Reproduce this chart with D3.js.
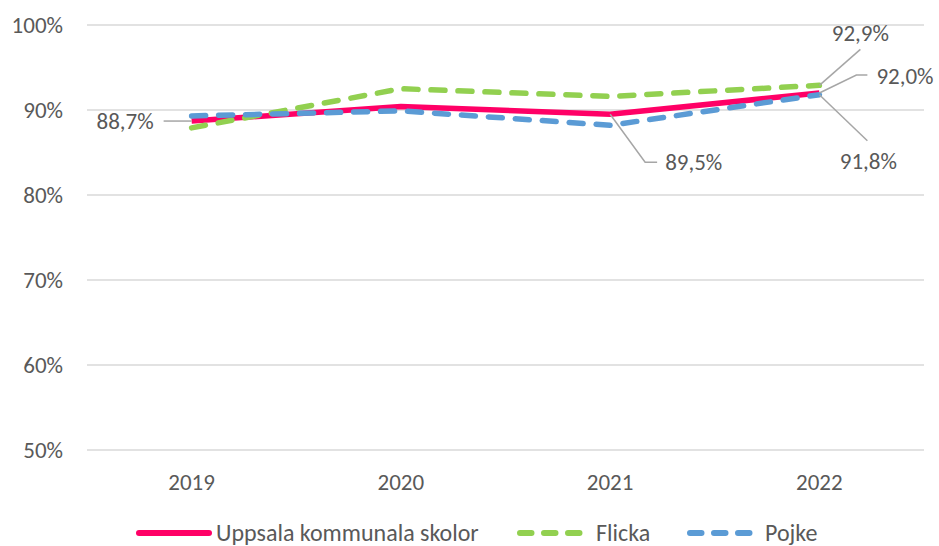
<!DOCTYPE html>
<html>
<head>
<meta charset="utf-8">
<script src="https://cdn.jsdelivr.net/npm/d3@7"></script>
<style>
  body { margin: 0; background: #fff; }
  text { font-family: Carlito, Calibri, Lato, sans-serif; fill: #595959; }
</style>
</head>
<body>
<div id="chart"></div>
<script>
// data
const years = ["2019", "2020", "2021", "2022"];
const uppsala = [88.7, 90.4, 89.5, 92.0];
const flicka = [87.9, 92.5, 91.6, 92.9];
const pojke = [89.3, 89.9, 88.2, 91.8];
const yTicks = [50, 60, 70, 80, 90, 100];

const seriesList = [
    {name: "Uppsala kommunala skolor", values: uppsala, color: "#FF0066", dash: null},
    {name: "Flicka", values: flicka, color: "#92D050", dash: "14 13"},
    {name: "Pojke", values: pojke, color: "#5B9BD5", dash: "14 13"}
];

// labels, with the leader line points relative to the data point
const pointLabels = [
    {s: 0, i: 0, text: "88,7%", tx: -38, ty: 0, anchor: "end", leader: [[0, 0], [-28, 0]]},
    {s: 0, i: 2, text: "89,5%", tx: 55, ty: 48, anchor: "start", leader: [[0, 0], [35, 48], [47, 48]]},
    {s: 1, i: 3, text: "92,9%", tx: 41, ty: -52, anchor: "middle", leader: [[0, 0], [41, -36]]},
    {s: 0, i: 3, text: "92,0%", tx: 57, ty: -17, anchor: "start", leader: [[0, 0], [37, -18], [48, -18]]},
    {s: 2, i: 3, text: "91,8%", tx: 49, ty: 66, anchor: "middle", leader: [[0, 0], [48, 46]]}
];

const width = 939, height = 546;
const margin = {top: 25, right: 15, bottom: 96, left: 87};
const fontSize = "23px";

const svg = d3.select("#chart").append("svg")
    .attr("width", width)
    .attr("height", height);

const x = d3.scaleBand()
    .domain(years)
    .range([margin.left, width - margin.right]);

const y = d3.scaleLinear()
    .domain([50, 100])
    .range([height - margin.bottom, margin.top]);

// gridlines
svg.append("g")
    .selectAll("line")
    .data(yTicks)
    .join("line")
    .attr("x1", margin.left)
    .attr("x2", width - margin.right)
    .attr("y1", d => y(d))
    .attr("y2", d => y(d))
    .attr("stroke", "#D9D9D9")
    .attr("stroke-width", 1.3);

// y labels
svg.append("g")
    .selectAll("text")
    .data(yTicks)
    .join("text")
    .attr("x", 63)
    .attr("y", d => y(d))
    .attr("dy", "0.35em")
    .attr("text-anchor", "end")
    .style("font-size", fontSize)
    .text(d => d + "%");

// x labels
svg.append("g")
    .selectAll("text")
    .data(years)
    .join("text")
    .attr("x", d => x(d) + x.bandwidth() / 2)
    .attr("y", 482)
    .attr("dy", "0.35em")
    .attr("text-anchor", "middle")
    .style("font-size", fontSize)
    .text(d => d);

const line = d3.line()
    .x((d, i) => x(years[i]) + x.bandwidth() / 2)
    .y(d => y(d));

svg.append("g")
    .selectAll("path")
    .data(seriesList)
    .join("path")
    .attr("d", d => line(d.values))
    .attr("fill", "none")
    .attr("stroke", d => d.color)
    .attr("stroke-width", 5.5)
    .attr("stroke-linejoin", "round")
    .attr("stroke-linecap", d => d.dash ? "round" : "butt")
    .attr("stroke-dasharray", d => d.dash);

// data labels with leader lines
const lab = svg.append("g");
pointLabels.forEach(p => {
    let px = x(years[p.i]) + x.bandwidth() / 2;
    let py = y(seriesList[p.s].values[p.i]);
    lab.append("path")
        .attr("d", d3.line()(p.leader.map(q => [px + q[0], py + q[1]])))
        .attr("fill", "none")
        .attr("stroke", "#A6A6A6")
        .attr("stroke-width", 1.5);
    lab.append("text")
        .attr("x", px + p.tx)
        .attr("y", py + p.ty)
        .attr("dy", "0.35em")
        .attr("text-anchor", p.anchor)
        .style("font-size", fontSize)
        .text(p.text);
});

// legend
const legendX = [139, 520, 690];
const legendText = [216, 596, 765];
const legend = svg.append("g");
seriesList.forEach((s, i) => {
    legend.append("line")
        .attr("x1", legendX[i])
        .attr("x2", legendX[i] + (s.dash ? 61 : 70))
        .attr("y1", 533)
        .attr("y2", 533)
        .attr("stroke", s.color)
        .attr("stroke-width", 6)
        .attr("stroke-linecap", "round")
        .attr("stroke-dasharray", s.dash ? "11.5 12.5" : null);
    legend.append("text")
        .attr("x", legendText[i])
        .attr("y", 533)
        .attr("dy", "0.35em")
        .style("font-size", "24px")
        .text(s.name);
});
</script>
</body>
</html>
